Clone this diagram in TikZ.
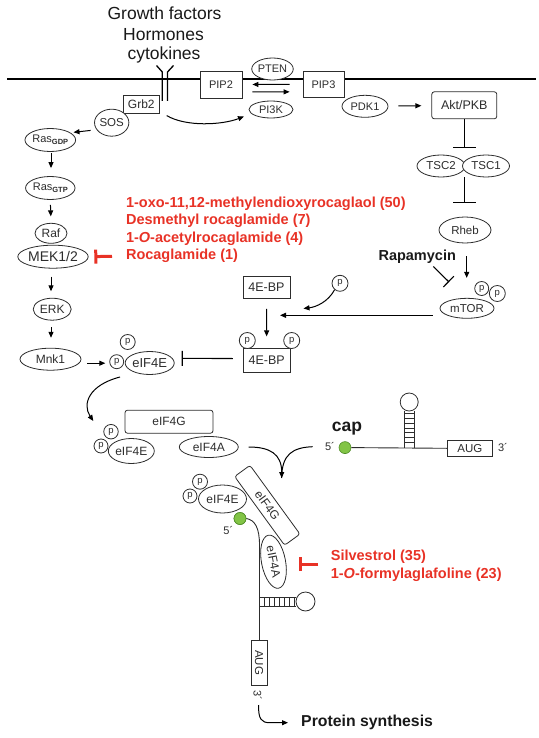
\documentclass[tikz,border=0pt]{standalone}
\usepackage{fontspec}
\setmainfont{Liberation Sans}
\usetikzlibrary{shapes.geometric,arrows.meta,calc}
\definecolor{rd}{RGB}{232,50,38}
\definecolor{gfill}{RGB}{130,196,70}
\definecolor{gline}{RGB}{80,140,40}
\definecolor{ink}{RGB}{45,45,45}
\newcommand{\szf}[1]{\fontsize{#1}{#1}\selectfont}
\newcommand{\rsub}[1]{\raisebox{-1.6pt}{\fontsize{7.5}{7.5}\selectfont\bfseries #1}}
\begin{document}
\begin{tikzpicture}[x=1pt,y=-1pt,
  el/.style={ellipse,draw=ink,line width=0.8pt,fill=white,inner sep=0pt,text=ink},
  bx/.style={rectangle,draw=ink,line width=0.8pt,fill=white,inner sep=0pt,text=ink},
  rbx/.style={bx,rounded corners=2.5pt},
  pc/.style={circle,draw=ink,line width=0.8pt,fill=white,inner sep=0pt,minimum size=#1,font=\szf{9.5},text=ink},
  pc/.default=15pt,
  gdot/.style={circle,draw=gline,line width=0.6pt,fill=gfill,inner sep=0pt,minimum size=12pt},
  arr/.style={-{Triangle[length=6pt,width=5pt]},line width=1pt,draw=black},
  ln/.style={line width=1pt,draw=black},
  inh/.style={-{Bar[width=#1]},line width=1.1pt,draw=black},
  inh/.default=22pt,
  rinh/.style={-{Bar[width=14pt]},draw=rd,line width=3pt},
  rna/.style={line width=0.9pt,draw=ink},
  redtxt/.style={anchor=base west,text=rd,font=\bfseries\szf{14.5}},
  bigtxt/.style={anchor=base,font=\szf{17.5},text=black!90}
]
\useasboundingbox (0,0) rectangle (538,738);

% membrane
\coordinate (mL) at (7,79);
\coordinate (mR) at (536,79);
\draw[line width=2.6pt] (mL) -- (mR);

% top labels
\node[bigtxt] (gf) at (164.5,20) {Growth factors};
\node[bigtxt] (hm) at (163.5,40.7) {Hormones};
\node[bigtxt] (ck) at (164,60) {cytokines};

% receptor
\draw[line width=1.3pt] (162.3,101) -- (162.3,72) -- (156.5,65.5);
\draw[line width=1.3pt] (167.5,101) -- (167.5,72) -- (173.5,65.5);

% PIP module
\node[bx,minimum width=42pt,minimum height=27pt,font=\szf{11}] (pip2) at (221,84.5) {PIP2};
\node[el,minimum width=40pt,minimum height=22pt,font=\szf{11}] (pten) at (272.5,69) {PTEN};
\node[el,minimum width=44pt,minimum height=17pt,font=\szf{11}] (pi3k) at (271,109.5) {PI3K};
\node[bx,minimum width=41pt,minimum height=26pt,font=\szf{11}] (pip3) at (323.5,84.3) {PIP3};
\node[el,minimum width=46pt,minimum height=22pt,font=\szf{11}] (pdk1) at (365,106.3) {PDK1};
\node[rbx,minimum width=65pt,minimum height=27pt,font=\szf{12.5}] (akt) at (464.3,105.3) {Akt/PKB};

\draw[arr,shorten <=13pt,shorten >=10pt] (pip3.west) -- (pip2.east);
\draw[arr,shorten <=10pt,shorten >=13pt] ([yshift=-7.5pt]pip2.east) -- ([yshift=-7.5pt]pip3.west);
\draw[arr,shorten <=10pt,shorten >=10pt] (pdk1) -- (akt);

% TSC / Rheb / mTOR
\node[el,minimum width=48pt,minimum height=22pt,font=\szf{11.5}] (tsc2) at (441,166) {TSC2};
\node[el,minimum width=47pt,minimum height=22pt,font=\szf{11.5}] (tsc1) at (486,166) {TSC1};
\coordinate (tscT) at (464.3,156);
\coordinate (tscB) at (464.3,177.5);
\draw[inh=23pt,shorten >=8pt] (akt.south) -- (tscT);
\node[el,minimum width=52pt,minimum height=26pt,font=\szf{11.5}] (rheb) at (465,230) {Rheb};
\draw[inh=23pt,shorten >=13.7pt] (tscB) -- ([xshift=-0.7pt]rheb.north);
\node[el,minimum width=54pt,minimum height=20pt,font=\szf{11.5}] (mtor) at (467,308.3) {mTOR};
\node[pc=14pt] (pm1) at (481.7,288.5) {p};
\node[pc=16pt] (pm2) at (497.3,293.5) {p};
\draw[arr,shorten <=13pt,shorten >=20pt] ([xshift=1.7pt]rheb.south) -- ([xshift=-0.3pt]mtor.north);
\node[anchor=base west,font=\bfseries\szf{14.5},text=black!90] (rapa) at (375,260.5) {Rapamycin};
\coordinate (rapS) at (433.3,266.5);
\coordinate (rapE) at (449,282);
\draw[inh=15pt] (rapS) -- (rapE);

% 4E-BP
\node[bx,minimum width=47pt,minimum height=22pt,font=\szf{12.5}] (ebp1) at (266.5,287.5) {4E-BP};
\node[bx,minimum width=47pt,minimum height=24pt,font=\szf{12.5}] (ebp2) at (266.7,360.3) {4E-BP};
\node[pc=16pt] (pe1) at (247.3,340.5) {p};
\node[pc=16pt] (pe2) at (291.7,340.5) {p};
\node[pc=16pt] (pfree) at (340,283.3) {p};
\coordinate (mtEnd) at (280,315.3);
\coordinate (pEnd) at (303.5,308.5);
\draw[arr,shorten <=7pt] ([yshift=-7pt]mtor.west) -- (mtEnd);
\draw[arr] (pfree.230) .. controls (328,302) and (316,307) .. (pEnd);
\draw[arr,shorten <=10pt,shorten >=11.5pt] (ebp1) -- (ebp2);

% left cascade
\node[bx,minimum width=36pt,minimum height=18pt,font=\szf{12}] (grb2) at (141.3,104.2) {Grb2};
\node[el,minimum width=30pt,minimum height=27pt,font=\szf{11.5}] (sos) at (111.7,122.7) {SOS};
\node[el,minimum width=47pt,minimum height=23pt,font=\szf{11}] (rasgdp) at (50.3,140) {Ras\rsub{GDP}};
\node[el,minimum width=47pt,minimum height=23pt,font=\szf{11}] (rasgtp) at (50.3,188) {Ras\rsub{GTP}};
\node[el,minimum width=32pt,minimum height=20pt,font=\szf{12}] (raf) at (51,233.3) {Raf};
\node[el,minimum width=66pt,minimum height=23pt,font=\szf{14}] (mek) at (53,256.7) {MEK1/2};
\node[el,minimum width=38pt,minimum height=22pt,font=\szf{12}] (erk) at (52.2,309.2) {ERK};
\node[el,minimum width=61pt,minimum height=22pt,font=\szf{12}] (mnk) at (50.5,359.2) {Mnk1};
\node[el,minimum width=47pt,minimum height=23pt,font=\szf{13}] (e4e1) at (149.7,363) {eIF4E};
\node[pc=14pt] (pa1) at (116.7,361.7) {p};
\node[pc=15pt] (pa2) at (127.7,342) {p};

\coordinate (gpEnd) at (244,116.5);
\draw[arr] ([xshift=7pt,yshift=-2pt]grb2.south east) .. controls (186,127) and (222,125) .. (gpEnd);
\draw[arr,shorten <=6pt,shorten >=3pt] (sos.205) -- (rasgdp.20);
\draw[arr,shorten <=1.5pt,shorten >=8pt] ([xshift=0.7pt]rasgdp.south) -- ([xshift=0.7pt]rasgtp.north);
\draw[arr,shorten <=5pt,shorten >=6.5pt] (rasgtp.south) -- (raf.north);
\draw[arr,shorten <=8pt,shorten >=6.5pt] ([xshift=-2pt]mek.south) -- ([xshift=-1.2pt]erk.north);
\draw[arr,shorten <=6.5pt,shorten >=10pt] ([xshift=-1.2pt]erk.south) -- ([xshift=0.5pt]mnk.north);
\draw[arr,shorten <=6pt,shorten >=4pt] ([yshift=-4pt]mnk.east) -- ([yshift=-4pt]pa1.west |- mnk.east);
\coordinate (ebInhE) at (181.7,358.3);
\draw[inh=15pt,shorten <=10pt] ([yshift=1.7pt]ebp2.west) -- (ebInhE);

% red inhibitors (rocaglamides)
\node[redtxt] (rt1) at (122.5,207) {1-oxo-11,12-methylendioxyrocaglaol (50)};
\node[redtxt] (rt2) at (122.5,224.5) {Desmethyl rocaglamide (7)};
\node[redtxt] (rt3) at (122.5,242) {1-\textit{O}-acetylrocaglamide (4)};
\node[redtxt] (rt4) at (122.5,259.5) {Rocaglamide (1)};
\coordinate (rA) at (112,256.3);
\draw[rinh,shorten >=5.7pt] (rA) -- (mek.east);

% complex 1
\coordinate (c1s) at (120,377);
\coordinate (c1e) at (93.3,421);
\draw[arr] (c1s) .. controls (89,385) and (82,404) .. (c1e);
\node[rbx,minimum width=88pt,minimum height=23pt,font=\szf{12}] (e4g1) at (169,421.7) {eIF4G};
\node[el,minimum width=46pt,minimum height=25pt,font=\szf{12}] (e4e2) at (131.3,451) {eIF4E};
\node[el,minimum width=59pt,minimum height=21pt,font=\szf{12}] (e4a1) at (208.8,447) {eIF4A};
\node[pc=14pt] (pb1) at (101,446) {p};
\node[pc=14.5pt] (pb2) at (111,431.7) {p};

% mRNA 1
\node[font=\bfseries\szf{17.5},anchor=base west,text=black!90] (cap) at (328.3,431.5) {cap};
\node[font=\szf{11},text=ink] (five1) at (330,446.7) {5´};
\node[gdot] (g1) at (345,447.6) {};
\node[bx,minimum width=45pt,minimum height=15.5pt,font=\szf{11.5}] (aug1) at (469.8,448.3) {AUG};
\node[font=\szf{11},text=ink] (three1) at (503,447.3) {3´};
\draw[rna] (g1.east) -- (aug1.west);
\node[circle,draw=ink,line width=0.8pt,minimum size=18pt,inner sep=0pt] (loop1) at (409.2,402) {};
\draw[rna] (404.4,410.5) -- (404.4,447.6);
\draw[rna] (414,410.5) -- (414,447.6);
\foreach \yy in {413.5,418.3,423.1,427.9,432.7,437.5,442.3} \draw[line width=0.7pt,ink] (404.4,\yy) -- (414,\yy);

% converging arrows
\coordinate (meet) at (281.7,478);
\draw[arr] ([xshift=10pt]e4a1.east) .. controls (270,447) and (281.7,454) .. (meet);
\draw[ln] ([xshift=-9pt]five1.west) .. controls (293,447.5) and (281.7,454) .. (meet);

% complex 2 with mRNA
\node[gdot] (g2) at (240,518.5) {};
\node[rbx,minimum width=85pt,minimum height=19pt,rotate=-54,font=\szf{12}] (e4g2) at (267.3,505.3) {eIF4G};
\node[bx,minimum width=45pt,minimum height=16pt,rotate=-90,font=\szf{11.5}] (aug2) at (259,662.5) {AUG};
\draw[rna] (g2.east) .. controls (255,520) and (259.5,528) .. (259.5,545) -- (259.5,640);
\node[el,minimum width=48pt,minimum height=28pt,font=\szf{12}] (e4e3) at (222.5,499) {eIF4E};
\node[pc=14pt] (pc1) at (190,496) {p};
\node[pc=15pt] (pc2) at (200,481.7) {p};
\node[gdot] at (g2) {};
\node[font=\szf{11},text=ink] (five2) at (228.3,530) {5´};
\node[el,minimum width=54pt,minimum height=24pt,rotate=-79,font=\szf{12}] (e4a2) at (273.5,561.7) {eIF4A};
\node[circle,draw=ink,line width=0.8pt,minimum size=19pt,inner sep=0pt] (loop2) at (305.5,601.5) {};
\draw[rna] (259.5,597) -- (296.2,597);
\draw[rna] (259.5,606) -- (296.2,606);
\foreach \xx in {264,269,274,279,284,289,294} \draw[line width=0.7pt,ink] (\xx,597) -- (\xx,606);
\node[font=\szf{11},text=ink,rotate=-90] (three2) at (257.5,695) {3´};
\coordinate (psS) at (258.5,705);
\coordinate (psE) at (288,722.7);
\draw[arr] (psS) .. controls (258.5,719) and (261,722.7) .. (270,722.7) -- (psE);
\node[anchor=base west,font=\bfseries\szf{15.8},text=black!90] (ps) at (297.7,726.5) {Protein synthesis};

% red inhibitors (eIF4A)
\node[redtxt] (st1) at (327.3,560) {Silvestrol (35)};
\node[redtxt] (st2) at (327.3,578.3) {1-\textit{O}-formylaglafoline (23)};
\coordinate (rB) at (318.3,564);
\coordinate (rBe) at (299,564);
\draw[rinh] (rB) -- (rBe);

\end{tikzpicture}
\end{document}
